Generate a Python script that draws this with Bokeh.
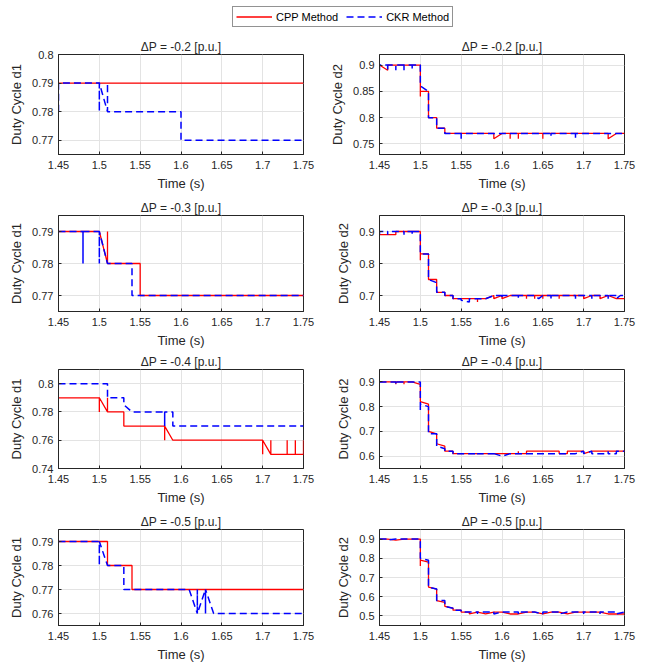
from bokeh.plotting import figure
from bokeh.layouts import column, row
from bokeh.models import (FixedTicker, CustomJSTickFormatter, Legend,
                          LegendItem, Range1d)
from bokeh.embed import file_html
from bokeh.resources import INLINE

# ---------------- data ----------------
titles = ["ΔP = -0.2 [p.u.]", "ΔP = -0.3 [p.u.]", "ΔP = -0.4 [p.u.]", "ΔP = -0.5 [p.u.]"]
x_ticks = [1.45, 1.5, 1.55, 1.6, 1.65, 1.7, 1.75]

# d1, dP=-0.2
t_cpp_d1_02 = [1.45, 1.75]
v_cpp_d1_02 = [0.79, 0.79]
t_ckr_d1_02 = [1.45, 1.45, 1.50, 1.50, 1.50, 1.51, 1.51, 1.51, 1.60, 1.60, 1.75]
v_ckr_d1_02 = [0.78, 0.79, 0.79, 0.78, 0.79, 0.78, 0.79, 0.78, 0.78, 0.77, 0.77]

# d2, dP=-0.2
t_cpp_d2_02 = [1.45, 1.46, 1.46, 1.50, 1.50, 1.50, 1.51, 1.51, 1.52, 1.52, 1.53, 1.53, 1.59, 1.59,
               1.60, 1.61, 1.61, 1.61, 1.62, 1.62, 1.62, 1.65, 1.65, 1.65, 1.73, 1.73, 1.74, 1.75]
v_cpp_d2_02 = [0.90, 0.89, 0.90, 0.90, 0.84, 0.85, 0.85, 0.80, 0.80, 0.78, 0.78, 0.77, 0.77, 0.76,
               0.77, 0.77, 0.76, 0.77, 0.77, 0.76, 0.77, 0.77, 0.76, 0.77, 0.77, 0.76, 0.77, 0.77]
t_ckr_d2_02 = [1.45, 1.45, 1.46, 1.46, 1.46, 1.47, 1.47, 1.47, 1.48, 1.48, 1.48, 1.49, 1.49, 1.49,
               1.50, 1.50, 1.51, 1.51, 1.52, 1.52, 1.53, 1.53, 1.55, 1.55, 1.55, 1.66, 1.66, 1.66,
               1.69, 1.69, 1.69, 1.75]
v_ckr_d2_02 = [0.89, 0.90, 0.90, 0.89, 0.90, 0.90, 0.89, 0.90, 0.90, 0.89, 0.90, 0.90, 0.89, 0.90,
               0.90, 0.86, 0.85, 0.80, 0.80, 0.78, 0.78, 0.77, 0.77, 0.76, 0.77, 0.77, 0.765, 0.77,
               0.77, 0.76, 0.77, 0.77]

# d1, dP=-0.3
t_cpp_d1_03 = [1.45, 1.50, 1.51, 1.51, 1.51, 1.55, 1.55, 1.75]
v_cpp_d1_03 = [0.79, 0.79, 0.78, 0.79, 0.78, 0.78, 0.77, 0.77]
t_ckr_d1_03 = [1.45, 1.48, 1.48, 1.48, 1.50, 1.50, 1.50, 1.51, 1.54, 1.54, 1.75]
v_ckr_d1_03 = [0.79, 0.79, 0.78, 0.79, 0.79, 0.78, 0.79, 0.78, 0.78, 0.77, 0.77]

# d2, dP=-0.3
t_cpp_d2_03 = [1.45, 1.47, 1.47, 1.50, 1.50, 1.50, 1.51, 1.51, 1.52, 1.52, 1.53, 1.53, 1.54, 1.54,
               1.57, 1.57, 1.57, 1.58, 1.59, 1.59, 1.60, 1.60, 1.61, 1.63, 1.63, 1.63, 1.64, 1.64,
               1.64, 1.65, 1.65, 1.65, 1.67, 1.67, 1.67, 1.70, 1.70, 1.71, 1.72, 1.72, 1.73, 1.74, 1.75]
v_cpp_d2_03 = [0.89, 0.89, 0.90, 0.90, 0.81, 0.83, 0.83, 0.75, 0.75, 0.71, 0.71, 0.70, 0.70, 0.69,
               0.69, 0.68, 0.69, 0.69, 0.70, 0.69, 0.70, 0.69, 0.70, 0.70, 0.69, 0.70, 0.70, 0.69,
               0.70, 0.70, 0.69, 0.70, 0.70, 0.69, 0.70, 0.70, 0.69, 0.70, 0.70, 0.69, 0.70, 0.69, 0.69]
t_ckr_d2_03 = [1.45, 1.45, 1.46, 1.46, 1.46, 1.48, 1.48, 1.48, 1.49, 1.49, 1.49, 1.50, 1.50, 1.51,
               1.51, 1.52, 1.52, 1.53, 1.53, 1.54, 1.54, 1.55, 1.55, 1.56, 1.56, 1.58, 1.59, 1.60,
               1.60, 1.60, 1.62, 1.62, 1.62, 1.64, 1.645, 1.65, 1.66, 1.66, 1.66, 1.69, 1.69, 1.69,
               1.71, 1.71, 1.71, 1.73, 1.73, 1.73, 1.74, 1.74, 1.745, 1.75]
v_ckr_d2_03 = [0.89, 0.90, 0.90, 0.89, 0.90, 0.90, 0.89, 0.90, 0.90, 0.89, 0.90, 0.90, 0.83, 0.83,
               0.75, 0.74, 0.71, 0.71, 0.70, 0.70, 0.69, 0.69, 0.685, 0.68, 0.69, 0.69, 0.70, 0.70,
               0.69, 0.70, 0.70, 0.69, 0.70, 0.70, 0.69, 0.70, 0.70, 0.69, 0.70, 0.70, 0.69, 0.70,
               0.70, 0.69, 0.70, 0.70, 0.69, 0.70, 0.70, 0.69, 0.70, 0.70]

# d1, dP=-0.4
t_cpp_d1_04 = [1.45, 1.50, 1.50, 1.50, 1.51, 1.51, 1.51, 1.53, 1.53, 1.58, 1.58, 1.58, 1.59, 1.70,
               1.70, 1.70, 1.71, 1.71, 1.71, 1.73, 1.73, 1.73, 1.74, 1.74, 1.74, 1.75, 1.75]
v_cpp_d1_04 = [0.79, 0.79, 0.78, 0.79, 0.78, 0.79, 0.78, 0.78, 0.77, 0.77, 0.76, 0.77, 0.76, 0.76,
               0.75, 0.76, 0.75, 0.76, 0.75, 0.75, 0.76, 0.75, 0.75, 0.76, 0.75, 0.75, 0.76]
t_ckr_d1_04 = [1.45, 1.51, 1.51, 1.53, 1.53, 1.54, 1.58, 1.58, 1.58, 1.59, 1.59, 1.75]
v_ckr_d1_04 = [0.80, 0.80, 0.79, 0.79, 0.785, 0.78, 0.78, 0.77, 0.78, 0.78, 0.77, 0.77]

# d2, dP=-0.4
t_cpp_d2_04 = [1.45, 1.47, 1.47, 1.47, 1.48, 1.48, 1.48, 1.49, 1.50, 1.50, 1.51, 1.51, 1.52, 1.52,
               1.53, 1.53, 1.54, 1.54, 1.62, 1.62, 1.62, 1.63, 1.63, 1.67, 1.67, 1.68, 1.68, 1.70,
               1.70, 1.71, 1.75]
v_cpp_d2_04 = [0.90, 0.90, 0.89, 0.90, 0.90, 0.89, 0.90, 0.90, 0.89, 0.82, 0.81, 0.70, 0.69, 0.65,
               0.64, 0.62, 0.62, 0.61, 0.61, 0.62, 0.61, 0.61, 0.62, 0.62, 0.61, 0.61, 0.62, 0.62,
               0.61, 0.62, 0.62]
t_ckr_d2_04 = [1.45, 1.47, 1.47, 1.47, 1.50, 1.50, 1.50, 1.51, 1.51, 1.52, 1.52, 1.53, 1.53, 1.54,
               1.54, 1.57, 1.57, 1.57, 1.59, 1.59, 1.59, 1.60, 1.61, 1.69, 1.70, 1.70, 1.71, 1.71,
               1.73, 1.73, 1.73, 1.74, 1.74, 1.75]
v_ckr_d2_04 = [0.90, 0.90, 0.89, 0.90, 0.90, 0.78, 0.81, 0.80, 0.69, 0.69, 0.64, 0.63, 0.62, 0.62,
               0.61, 0.61, 0.605, 0.61, 0.61, 0.60, 0.61, 0.60, 0.61, 0.61, 0.62, 0.61, 0.62, 0.61,
               0.61, 0.62, 0.61, 0.61, 0.62, 0.62]

# d1, dP=-0.5
t_cpp_d1_05 = [1.45, 1.51, 1.51, 1.54, 1.54, 1.75]
v_cpp_d1_05 = [0.79, 0.79, 0.78, 0.78, 0.77, 0.77]
t_ckr_d1_05 = [1.45, 1.50, 1.50, 1.50, 1.51, 1.53, 1.53, 1.61, 1.62, 1.62, 1.62, 1.63, 1.63, 1.63,
               1.64, 1.75]
v_ckr_d1_05 = [0.79, 0.79, 0.78, 0.79, 0.78, 0.78, 0.77, 0.77, 0.76, 0.77, 0.76, 0.77, 0.76, 0.77,
               0.76, 0.76]

# d2, dP=-0.5
t_cpp_d2_05 = [1.45, 1.46, 1.47, 1.48, 1.50, 1.50, 1.50, 1.51, 1.51, 1.52, 1.52, 1.53, 1.53, 1.54,
               1.54, 1.55, 1.55, 1.56, 1.56, 1.57, 1.58, 1.59, 1.60, 1.61, 1.62, 1.63, 1.64, 1.65,
               1.66, 1.67, 1.68, 1.69, 1.70, 1.71, 1.72, 1.73, 1.74, 1.75]
v_cpp_d2_05 = [0.90, 0.90, 0.895, 0.90, 0.90, 0.76, 0.79, 0.78, 0.65, 0.64, 0.58, 0.57, 0.55, 0.54,
               0.53, 0.53, 0.52, 0.52, 0.51, 0.52, 0.51, 0.52, 0.52, 0.51, 0.51, 0.52, 0.52, 0.51,
               0.52, 0.52, 0.51, 0.52, 0.52, 0.52, 0.52, 0.51, 0.51, 0.51]
t_ckr_d2_05 = [1.45, 1.46, 1.46, 1.47, 1.50, 1.50, 1.51, 1.51, 1.52, 1.52, 1.53, 1.53, 1.54, 1.54,
               1.55, 1.55, 1.57, 1.57, 1.57, 1.59, 1.59, 1.60, 1.62, 1.62, 1.62, 1.64, 1.65, 1.65,
               1.67, 1.67, 1.68, 1.70, 1.70, 1.70, 1.72, 1.72, 1.72, 1.74, 1.74, 1.75]
v_ckr_d2_05 = [0.90, 0.90, 0.895, 0.90, 0.90, 0.80, 0.79, 0.65, 0.64, 0.58, 0.58, 0.55, 0.54, 0.53,
               0.53, 0.52, 0.52, 0.51, 0.52, 0.52, 0.51, 0.52, 0.52, 0.51, 0.52, 0.52, 0.51, 0.52,
               0.52, 0.51, 0.52, 0.52, 0.51, 0.52, 0.52, 0.51, 0.52, 0.52, 0.51, 0.52]

# y ranges and ticks per panel: (row, col)
y_ranges = {(0, 0): (0.765, 0.8), (0, 1): (0.73, 0.92),
            (1, 0): (0.765, 0.795), (1, 1): (0.65, 0.95),
            (2, 0): (0.74, 0.81), (2, 1): (0.55, 0.95),
            (3, 0): (0.755, 0.795), (3, 1): (0.45, 0.95)}
y_ticks = {(0, 0): [0.77, 0.78, 0.79, 0.8], (0, 1): [0.75, 0.8, 0.85, 0.9],
           (1, 0): [0.77, 0.78, 0.79], (1, 1): [0.7, 0.8, 0.9],
           (2, 0): [0.74, 0.76, 0.78, 0.8], (2, 1): [0.6, 0.7, 0.8, 0.9],
           (3, 0): [0.76, 0.77, 0.78, 0.79], (3, 1): [0.5, 0.6, 0.7, 0.8, 0.9]}
series = {(0, 0): (t_cpp_d1_02, v_cpp_d1_02, t_ckr_d1_02, v_ckr_d1_02),
          (0, 1): (t_cpp_d2_02, v_cpp_d2_02, t_ckr_d2_02, v_ckr_d2_02),
          (1, 0): (t_cpp_d1_03, v_cpp_d1_03, t_ckr_d1_03, v_ckr_d1_03),
          (1, 1): (t_cpp_d2_03, v_cpp_d2_03, t_ckr_d2_03, v_ckr_d2_03),
          (2, 0): (t_cpp_d1_04, v_cpp_d1_04, t_ckr_d1_04, v_ckr_d1_04),
          (2, 1): (t_cpp_d2_04, v_cpp_d2_04, t_ckr_d2_04, v_ckr_d2_04),
          (3, 0): (t_cpp_d1_05, v_cpp_d1_05, t_ckr_d1_05, v_ckr_d1_05),
          (3, 1): (t_cpp_d2_05, v_cpp_d2_05, t_ckr_d2_05, v_ckr_d2_05)}
y_labels = ["Duty Cycle d1", "Duty Cycle d2"]
legend_labels = ["CPP Method", "CKR Method"]

# ---------------- style ----------------
FONT = "Liberation Sans"
INK = "#262626"
RED = "#ff0000"
BLUE = "#0000ff"
GRID = "#e3e3e3"
fmt = CustomJSTickFormatter(code="return String(tick);")

tops = [20, 20, 19, 20]
frames = [100, 96, 99, 96]
bots = [41, 39, 41, 39]


def style_axis(ax, ticks):
    ax.ticker = FixedTicker(ticks=ticks)
    ax.formatter = fmt
    ax.major_tick_in = 3
    ax.major_tick_out = 0
    ax.minor_tick_line_color = None
    ax.axis_line_color = INK
    ax.major_tick_line_color = INK
    ax.major_label_text_color = INK
    ax.major_label_text_font = FONT
    ax.major_label_text_font_size = "11px"
    ax.axis_label_text_font = FONT
    ax.axis_label_text_font_size = "13px"
    ax.axis_label_text_color = INK
    ax.axis_label_text_font_style = "normal"


def make_plot(r, c):
    p = figure(frame_width=245, frame_height=frames[r],
               x_range=Range1d(1.45, 1.75), y_range=Range1d(*y_ranges[(r, c)]),
               toolbar_location=None, output_backend="svg",
               min_border_left=58 if c == 0 else 59,
               min_border_right=17 if c == 0 else 25,
               min_border_top=tops[r], min_border_bottom=bots[r],
               title=titles[r])
    p.title.align = "center"
    p.title.text_font = FONT
    p.title.text_font_size = "12px"
    p.title.text_font_style = "normal"
    p.title.text_color = INK
    p.title.standoff = 2
    p.outline_line_color = INK
    p.outline_line_alpha = 1
    p.background_fill_color = "white"
    p.border_fill_color = "white"

    style_axis(p.xaxis[0], x_ticks)
    style_axis(p.yaxis[0], y_ticks[(r, c)])
    p.xaxis[0].axis_label = "Time (s)"
    p.xaxis[0].major_label_standoff = 6
    p.xaxis[0].axis_label_standoff = 4
    p.yaxis[0].axis_label = y_labels[c]
    p.yaxis[0].major_label_standoff = 5
    p.yaxis[0].axis_label_standoff = 5

    p.xgrid.grid_line_color = GRID
    p.ygrid.grid_line_color = GRID

    t1, v1, t2, v2 = series[(r, c)]
    p.line(t1, v1, line_color=RED, line_width=1.3)
    p.line(t2, v2, line_color=BLUE, line_width=1.5, line_dash="7 4")
    return p


# legend strip (sample renderers kept outside the visible range)
lf = figure(width=649, height=34, x_range=Range1d(0, 1), y_range=Range1d(0, 1),
            x_axis_location=None, y_axis_location=None, toolbar_location=None,
            output_backend="svg", min_border=0, outline_line_color=None)
lf.xgrid.visible = False
lf.ygrid.visible = False
r_cpp = lf.line(x=[5, 6], y=[5, 5], line_color=RED, line_width=1.3)
r_ckr = lf.line(x=[5, 6], y=[5, 5], line_color=BLUE, line_width=1.5, line_dash="7 4")
leg = Legend(items=[LegendItem(label=legend_labels[0], renderers=[r_cpp]),
                    LegendItem(label=legend_labels[1], renderers=[r_ckr])],
             orientation="horizontal", location=(232, 7),
             glyph_width=36, glyph_height=13, label_height=13, label_standoff=4,
             spacing=8, padding=3, margin=0,
             border_line_color=INK, border_line_width=1,
             label_text_font=FONT, label_text_font_size="11px", label_text_color="black")
lf.add_layout(leg, "center")

rows = [lf]
for r in range(4):
    rows.append(row(make_plot(r, 0), make_plot(r, 1)))
layout = column(*rows)

open("out.html", "w").write(file_html(layout, INLINE))
